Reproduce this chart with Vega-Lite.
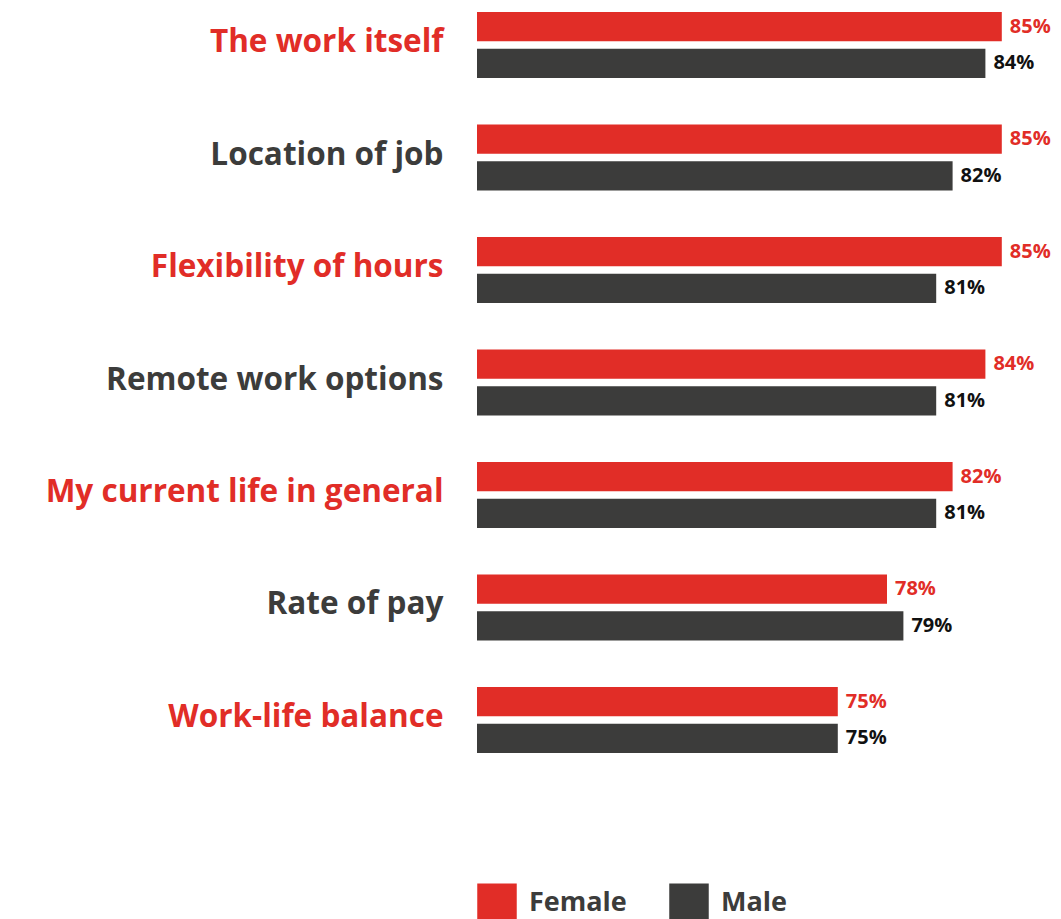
{
  "$schema": "https://vega.github.io/schema/vega-lite/v6.json",
  "width": 574,
  "height": 741,
  "autosize": {"type": "none"},
  "padding": {"left": 477, "top": 12, "right": 10, "bottom": 166},
  "background": "white",
  "config": {"view": {"stroke": null}, "font": "Open Sans"},
  "data": {
    "values": [
      {"item": "The work itself", "gender": "Female", "value": 0.85},
      {"item": "The work itself", "gender": "Male", "value": 0.84},
      {"item": "Location of job", "gender": "Female", "value": 0.85},
      {"item": "Location of job", "gender": "Male", "value": 0.82},
      {"item": "Flexibility of hours", "gender": "Female", "value": 0.85},
      {"item": "Flexibility of hours", "gender": "Male", "value": 0.81},
      {"item": "Remote work options", "gender": "Female", "value": 0.84},
      {"item": "Remote work options", "gender": "Male", "value": 0.81},
      {"item": "My current life in general", "gender": "Female", "value": 0.82},
      {"item": "My current life in general", "gender": "Male", "value": 0.81},
      {"item": "Rate of pay", "gender": "Female", "value": 0.78},
      {"item": "Rate of pay", "gender": "Male", "value": 0.79},
      {"item": "Work-life balance", "gender": "Female", "value": 0.75},
      {"item": "Work-life balance", "gender": "Male", "value": 0.75}
    ]
  },
  "encoding": {
    "y": {
      "field": "item",
      "type": "nominal",
      "sort": null,
      "scale": {"paddingInner": 0.413, "paddingOuter": 0},
      "axis": {
        "title": null,
        "domain": false,
        "ticks": false,
        "labelPadding": 34,
        "labelFontSize": 31.5,
        "labelFontWeight": "bold",
        "labelFont": "Open Sans",
        "labelLimit": 500,
        "labelOffset": -2,
        "labelColor": {
          "condition": {
            "test": "indexof(['The work itself','Flexibility of hours','My current life in general','Work-life balance'], datum.value) >= 0",
            "value": "#e12d27"
          },
          "value": "#3c3c3b"
        }
      }
    },
    "yOffset": {
      "field": "gender",
      "type": "nominal",
      "sort": ["Female", "Male"],
      "scale": {"paddingInner": 0.2}
    },
    "x": {
      "field": "value",
      "type": "quantitative",
      "scale": {"domain": [0.53, 0.88], "zero": false, "nice": false},
      "axis": null
    }
  },
  "layer": [
    {
      "mark": {"type": "bar", "clip": false},
      "encoding": {
        "x2": {"datum": 0.53},
        "color": {
          "field": "gender",
          "type": "nominal",
          "sort": ["Female", "Male"],
          "scale": {"domain": ["Female", "Male"], "range": ["#e12d27", "#3c3c3b"]},
          "legend": {
            "title": null,
            "orient": "none",
            "direction": "horizontal",
            "legendX": 0,
            "legendY": 871,
            "symbolType": "square",
            "symbolSize": 1560,
            "symbolStrokeWidth": 0,
            "labelFontSize": 27,
            "labelFontWeight": "bold",
            "labelFont": "Open Sans",
            "labelColor": "#3c3c3b",
            "labelOffset": 12,
            "columnPadding": 42,
            "padding": 0
          }
        }
      }
    },
    {
      "mark": {"type": "text", "align": "left", "baseline": "middle", "dx": 8, "fontSize": 20, "fontWeight": "bold", "font": "Open Sans"},
      "encoding": {
        "text": {"field": "value", "type": "quantitative", "format": ".0%"},
        "color": {
          "field": "gender",
          "type": "nominal",
          "scale": {"domain": ["Female", "Male"], "range": ["#e12d27", "#111111"]},
          "legend": null
        }
      }
    }
  ],
  "resolve": {"scale": {"color": "independent"}}
}
